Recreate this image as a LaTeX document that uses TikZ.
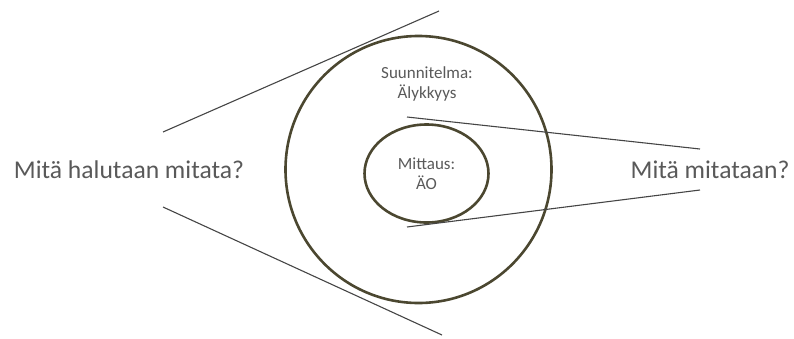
\documentclass[tikz,border=0pt]{standalone}
\usepackage{fontspec}
\setmainfont{Carlito}
\usetikzlibrary{shapes.geometric}
\definecolor{ringcol}{HTML}{4B4730}
\definecolor{txtcol}{HTML}{595959}
\definecolor{raycol}{HTML}{454545}

\begin{document}
\begin{tikzpicture}[x=1pt, y=-1pt,
    ring/.style={draw=ringcol, line width=2.6pt, ellipse, inner sep=0pt},
    ray/.style={draw=raycol, line width=1.1pt},
    bigtxt/.style={text=txtcol, font=\fontsize{25.6}{30}\selectfont},
    smalltxt/.style={text=txtcol, align=center, font=\fontsize{17}{20}\selectfont}]
    \useasboundingbox (0,0) rectangle (794,338);
    % rings
    \node[ring, minimum width=266pt, minimum height=267pt] (outer) at (418.5,169.5) {};
    \node[ring, minimum width=124pt, minimum height=98pt] (inner) at (426.5,173.5) {};
    \node[smalltxt] (plan) at (427,83.5) {Suunnitelma:\\Älykkyys};
    \node[smalltxt] (meas) at (426.5,174) {Mittaus:\\ÄO};
    % questions
    \node[bigtxt] (want) at (129,170) {Mitä halutaan mitata?};
    \node[bigtxt] (what) at (710,170) {Mitä mitataan?};
    % rays
    \coordinate (wantU) at (163,132);
    \coordinate (wantD) at (163,207);
    \coordinate (farU) at (439,11);
    \coordinate (farD) at (442,335);
    \coordinate (whatU) at (700,149);
    \coordinate (whatD) at (700,190);
    \coordinate (nearU) at (407,117);
    \coordinate (nearD) at (407,227);
    \draw[ray] (wantU) -- (farU);
    \draw[ray] (wantD) -- (farD);
    \draw[ray] (nearU) -- (whatU);
    \draw[ray] (nearD) -- (whatD);
\end{tikzpicture}
\end{document}
